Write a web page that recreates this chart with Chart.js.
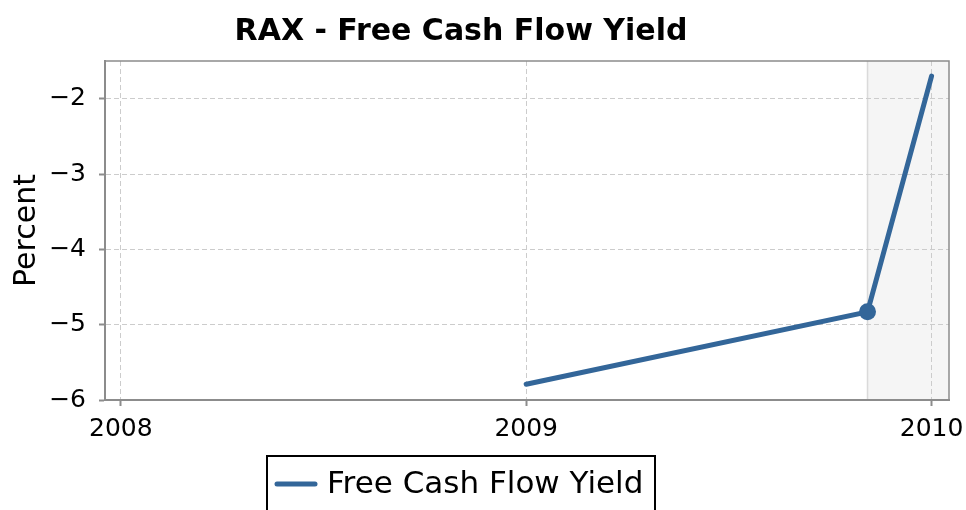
<!DOCTYPE html>
<html>
<head>
<meta charset="utf-8">
<script src="https://cdn.jsdelivr.net/npm/chart.js@4/dist/chart.umd.min.js"></script>
<style>
  html, body { margin: 0; padding: 0; background: #fff; }
  canvas { display: block; }
</style>
</head>
<body>
<canvas id="fcf" width="966" height="510"></canvas>
<script>
// Chart data
const chartTitle = 'RAX - Free Cash Flow Yield';
const seriesName = 'Free Cash Flow Yield';
const yAxisLabel = 'Percent';
const dates = [2009.0, 2009.842, 2010.0];     // fractional years
const fcfYield = [-5.79, -4.83, -1.70];        // percent
const xTicks = [2008, 2009, 2010];
const yTicks = [-6, -5, -4, -3, -2];
const forecastStart = 2009.842;                // shaded estimate band begins here

const COLORS = {
  line: '#336699',
  grid: '#cccccc',
  axis: '#8c8c8c',
  band: '#f5f5f5',
  bandEdge: '#dadada',
  text: '#000000'
};
const FONT = "'DejaVu Sans', sans-serif";

// shaded region behind the grid + frame, title and boxed legend
const decorations = {
  id: 'decorations',
  beforeDraw(chart) {
    const { ctx, chartArea: a, scales } = chart;
    const x0 = scales.x.getPixelForValue(forecastStart);
    ctx.save();
    ctx.fillStyle = COLORS.band;
    ctx.fillRect(x0, a.top, a.right - x0, a.bottom - a.top);
    ctx.strokeStyle = COLORS.bandEdge;
    ctx.lineWidth = 1.5;
    ctx.beginPath();
    ctx.moveTo(x0, a.top);
    ctx.lineTo(x0, a.bottom);
    ctx.stroke();
    ctx.restore();
  },
  afterDraw(chart) {
    const { ctx, chartArea: a } = chart;
    ctx.save();
    // top/right frame (left/bottom come from the axis borders)
    ctx.strokeStyle = COLORS.axis;
    ctx.lineWidth = 1.5;
    ctx.beginPath();
    ctx.moveTo(a.left, a.top);
    ctx.lineTo(a.right, a.top);
    ctx.lineTo(a.right, a.bottom);
    ctx.stroke();

    // title
    ctx.fillStyle = COLORS.text;
    ctx.font = "bold 30px " + FONT;
    ctx.textAlign = 'center';
    ctx.textBaseline = 'alphabetic';
    ctx.fillText(chartTitle, 461, 40);

    // legend
    ctx.strokeStyle = '#000';
    ctx.lineWidth = 2;
    ctx.strokeRect(267, 456, 388, 70);
    ctx.strokeStyle = COLORS.line;
    ctx.lineWidth = 5;
    ctx.lineCap = 'round';
    ctx.beginPath();
    ctx.moveTo(277, 484);
    ctx.lineTo(315, 484);
    ctx.stroke();
    ctx.font = "31px " + FONT;
    ctx.textAlign = 'left';
    ctx.textBaseline = 'middle';
    ctx.fillText(seriesName, 327, 485);
    ctx.restore();
  }
};

new Chart(document.getElementById('fcf'), {
  type: 'line',
  data: {
    datasets: [{
      label: seriesName,
      data: dates.map((d, i) => ({ x: d, y: fcfYield[i] })),
      borderColor: COLORS.line,
      backgroundColor: COLORS.line,
      borderWidth: 5,
      borderCapStyle: 'round',
      tension: 0,
      fill: false,
      pointRadius: c => (c.raw && c.raw.x === forecastStart ? 8.5 : 0),
      pointBackgroundColor: COLORS.line,
      pointBorderWidth: 0
    }]
  },
  options: {
    responsive: false,
    animation: false,
    layout: { padding: { top: 61, right: 17, bottom: 0, left: 0 } },
    plugins: {
      legend: { display: false },
      title: { display: false },
      tooltip: { enabled: false }
    },
    scales: {
      x: {
        type: 'linear',
        min: 2007.961,
        max: 2010.043,
        afterBuildTicks: s => { s.ticks = xTicks.map(v => ({ value: v })); },
        afterFit: s => {
          s.height = 110;
          // last label may overhang into the 17px right margin
          s.paddingLeft = 0;
          s.paddingRight = 0;
        },
        grid: {
          color: COLORS.grid,
          lineWidth: 1,
          tickColor: COLORS.axis,
          tickLength: 6,
          tickWidth: 2,
          tickBorderDash: []
        },
        border: { color: COLORS.axis, width: 2, dash: [5, 3] },
        ticks: {
          color: COLORS.text,
          font: { family: FONT, size: 25 },
          padding: 8,
          maxRotation: 0,
          callback: v => String(v)
        }
      },
      y: {
        type: 'linear',
        min: -6,
        max: -1.5,
        afterBuildTicks: s => { s.ticks = yTicks.map(v => ({ value: v })); },
        afterFit: s => { s.width = 105; },
        grid: {
          color: COLORS.grid,
          lineWidth: 1,
          tickColor: COLORS.axis,
          tickLength: 6,
          tickWidth: 2,
          tickBorderDash: []
        },
        border: { color: COLORS.axis, width: 2, dash: [5, 3] },
        title: {
          display: true,
          text: yAxisLabel,
          color: COLORS.text,
          font: { family: FONT, size: 30 },
          padding: { top: 9, bottom: 0 }
        },
        ticks: {
          color: COLORS.text,
          font: { family: FONT, size: 25 },
          padding: 13,
          callback: v => (v < 0 ? '\u2212' + Math.abs(v) : String(v))
        }
      }
    }
  },
  plugins: [decorations]
});
</script>
</body>
</html>
